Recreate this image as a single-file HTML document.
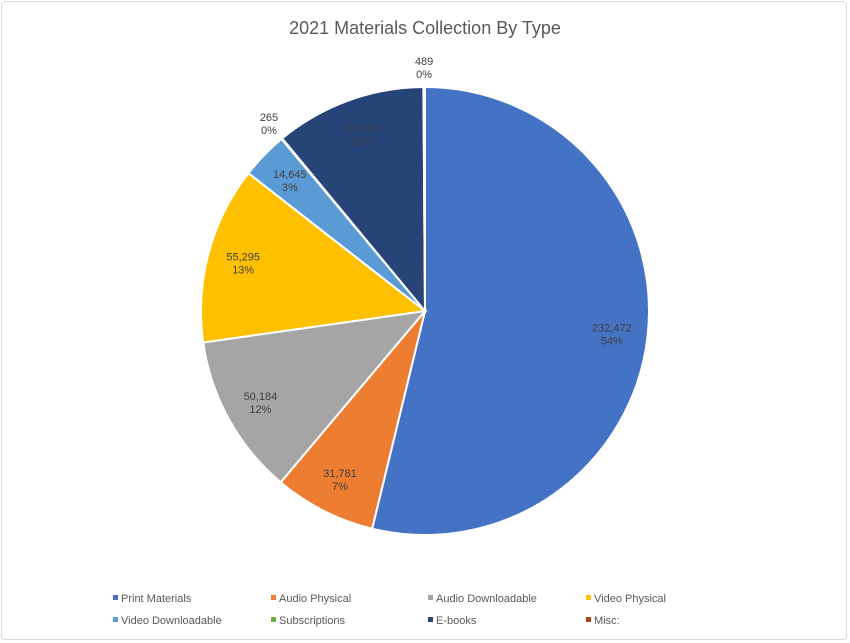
<!DOCTYPE html>
<html><head><meta charset="utf-8"><style>
body{margin:0;background:#fff;font-family:"Liberation Sans",sans-serif}
#frame{position:absolute;left:1px;top:1px;width:846px;height:639px;border:1px solid #d9d9d9;border-radius:4px;box-sizing:border-box}
</style></head><body>
<div id="frame"></div>
<svg id="chart" width="850" height="643" style="position:absolute;left:0;top:0">
<text x="425" y="34" text-anchor="middle" font-size="18" fill="#595959">2021 Materials Collection By Type</text>
<g id="slices"></g><g id="labels"></g><g id="legend"></g>
</svg>
<script>
const categories=["Print Materials","Audio Physical","Audio Downloadable","Video Physical","Video Downloadable","Subscriptions","E-books","Misc:"];
const values=[232472,31781,50184,55295,14645,265,47053,489];
const colors=["#4472c4","#ed7d31","#a5a5a5","#ffc000","#5b9bd5","#70ad47","#264478","#9e480e"];
const NS="http://www.w3.org/2000/svg";
const cx=425,cy=311,r=224;
const total=values.reduce((a,b)=>a+b,0);
const sl=document.getElementById('slices'),lb=document.getElementById('labels'),lg=document.getElementById('legend');
function pt(a,rr){return [cx+rr*Math.sin(a),cy-rr*Math.cos(a)];}
let acc=0;
values.forEach((v,i)=>{
  const a0=acc/total*2*Math.PI;acc+=v;const a1=acc/total*2*Math.PI;
  const p0=pt(a0,r),p1=pt(a1,r);
  const path=document.createElementNS(NS,'path');
  path.setAttribute('d',`M${cx},${cy}L${p0[0]},${p0[1]}A${r},${r} 0 ${a1-a0>Math.PI?1:0} 1 ${p1[0]},${p1[1]}Z`);
  path.setAttribute('fill',colors[i]);path.setAttribute('stroke','#fff');path.setAttribute('stroke-width','2');
  
  
  sl.appendChild(path);
  const frac=v/total;const am=(a0+a1)/2;
  const lp=pt(am,frac<0.01?r*1.09:r*0.84);
  const t=document.createElementNS(NS,'text');
  t.setAttribute('x',lp[0]);t.setAttribute('y',lp[1]-2);t.setAttribute('text-anchor','middle');
  t.setAttribute('font-size','11');t.setAttribute('fill','#404040');
  
  
  const s1=document.createElementNS(NS,'tspan');s1.setAttribute('x',lp[0]);s1.textContent=v.toLocaleString('en-US');
  const s2=document.createElementNS(NS,'tspan');s2.setAttribute('x',lp[0]);s2.setAttribute('dy','13');s2.textContent=Math.round(frac*100)+'%';
  t.appendChild(s1);t.appendChild(s2);lb.appendChild(t);
});
const colX=[115,273,430,588],rowY=[598,620];
categories.forEach((c,i)=>{
  const x=colX[i%4],y=rowY[Math.floor(i/4)];
  const g=document.createElementNS(NS,'g');
  
  
  const m=document.createElementNS(NS,'rect');
  m.setAttribute('x',x-2);m.setAttribute('y',y-3);m.setAttribute('width',5);m.setAttribute('height',5);m.setAttribute('fill',colors[i]);
  const t=document.createElementNS(NS,'text');
  t.setAttribute('x',x+6);t.setAttribute('y',y+4);t.setAttribute('font-size','11');t.setAttribute('fill','#595959');t.textContent=c;
  g.appendChild(m);g.appendChild(t);lg.appendChild(g);
});
</script>
</body></html>
